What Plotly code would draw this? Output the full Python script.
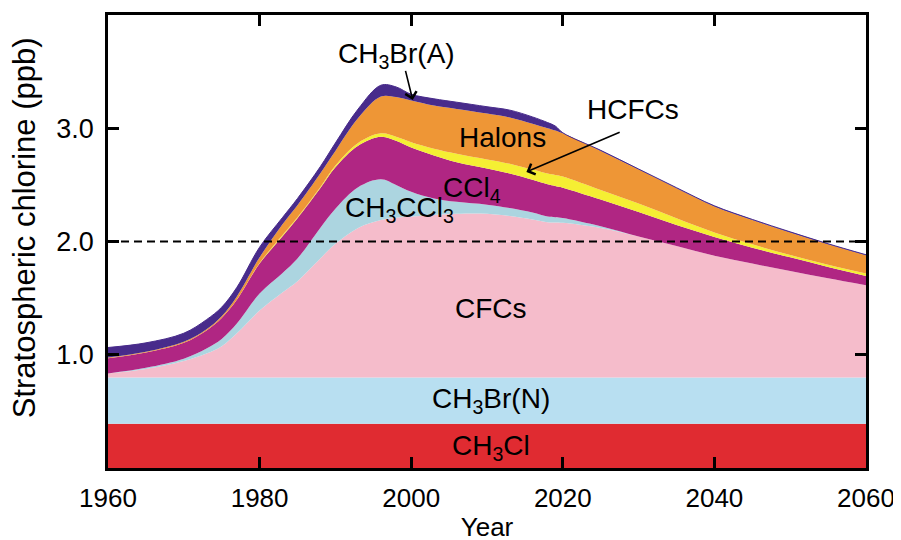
import plotly.graph_objects as go

# ---- data (ppb of equivalent stratospheric chlorine, stacked contributions) ----
years = [1960, 1965, 1970, 1973, 1975, 1977, 1980, 1983, 1985, 1988, 1990, 1993, 1996, 1998,
         2000, 2003, 2006, 2010, 2013, 2016, 2018, 2019, 2020, 2025, 2030, 2035, 2040, 2045,
         2050, 2055, 2060]

ch3cl = [0.39] * len(years)
ch3br_n = [0.41] * len(years)
cfcs = [0.035, 0.075, 0.145, 0.21, 0.275, 0.39, 0.59, 0.75, 0.85, 1.05, 1.18, 1.32, 1.39, 1.41,
        1.42, 1.435, 1.445, 1.445, 1.425, 1.395, 1.37, 1.368, 1.365, 1.32, 1.245, 1.16, 1.075, 1.005,
        0.94, 0.875, 0.814]
ch3ccl3 = [0.0, 0.01, 0.02, 0.045, 0.065, 0.085, 0.15, 0.17, 0.20, 0.27, 0.31, 0.36, 0.36, 0.29,
           0.22, 0.145, 0.105, 0.08, 0.07, 0.06, 0.05, 0.047, 0.043, 0.015, 0.0, 0.0, 0.0, 0.0,
           0.0, 0.0, 0.0]
ccl4 = [0.135, 0.135, 0.14, 0.16, 0.185, 0.21, 0.265, 0.325, 0.355, 0.35, 0.365, 0.365, 0.375, 0.39,
        0.39, 0.38, 0.35, 0.32, 0.305, 0.29, 0.285, 0.275, 0.267, 0.235, 0.215, 0.185, 0.165, 0.14,
        0.12, 0.10, 0.082]
hcfcs = [0.0, 0.0, 0.0, 0.0, 0.0, 0.0, 0.005, 0.01, 0.01, 0.01, 0.015, 0.025, 0.03, 0.035,
         0.047, 0.06, 0.075, 0.08, 0.087, 0.09, 0.095, 0.098, 0.10, 0.085, 0.075, 0.06, 0.04, 0.03,
         0.02, 0.02, 0.021]
halons = [0.006, 0.007, 0.01, 0.01, 0.015, 0.03, 0.05, 0.095, 0.105, 0.12, 0.13, 0.22, 0.325, 0.35,
          0.368, 0.38, 0.395, 0.405, 0.408, 0.405, 0.40, 0.392, 0.38, 0.345, 0.30, 0.265, 0.23, 0.215,
          0.20, 0.18, 0.161]
ch3br_a = [0.088, 0.078, 0.075, 0.085, 0.08, 0.08, 0.09, 0.06, 0.06, 0.06, 0.07, 0.08, 0.10, 0.09,
           0.055, 0.06, 0.06, 0.06, 0.065, 0.06, 0.05, 0.04, 0.005, 0.005, 0.005, 0.005, 0.005, 0.005,
           0.005, 0.005, 0.005]

series = [
    ("CH3Cl", ch3cl, "#e02b31"),
    ("CH3Br(N)", ch3br_n, "#b8dff1"),
    ("CFCs", cfcs, "#f5bccb"),
    ("CH3CCl3", ch3ccl3, "#acd5e0"),
    ("CCl4", ccl4, "#b02683"),
    ("HCFCs", hcfcs, "#f5ef33"),
    ("Halons", halons, "#ee9636"),
    ("CH3Br(A)", ch3br_a, "#482b8b"),
]

x_ticks = [1960, 1980, 2000, 2020, 2040, 2060]
y_ticks = [1.0, 2.0, 3.0]
y_tick_text = ["1.0", "2.0", "3.0"]

FONT = "Liberation Sans, Arial, Helvetica, sans-serif"

fig = go.Figure()
for name, vals, color in series:
    last = name == "CH3Br(A)"
    fig.add_trace(go.Scatter(
        x=years, y=vals, name=name, stackgroup="one", mode="lines",
        line=dict(width=1 if last else 0, color=color, shape="spline", smoothing=1.0),
        fillcolor=color, hoverinfo="x+y+name", showlegend=False,
    ))

# 2.0 ppb reference line
fig.add_shape(type="line", xref="x", yref="y", x0=1960, x1=2060, y0=2.0, y1=2.0,
              line=dict(color="black", width=2, dash="8px,5px"), layer="above")

labels = [
    ("CH<sub>3</sub>Br(A)", 1998.0, 3.64),
    ("Halons", 2012.1, 2.92),
    ("HCFCs", 2029.2, 3.17),
    ("CCl<sub>4</sub>", 2008.0, 2.46),
    ("CH<sub>3</sub>CCl<sub>3</sub>", 1998.5, 2.285),
    ("CFCs", 2010.5, 1.405),
    ("CH<sub>3</sub>Br(N)", 2010.5, 0.60),
    ("CH<sub>3</sub>Cl", 2010.5, 0.18),
]
for txt, lx, ly in labels:
    fig.add_annotation(x=lx, y=ly, text=txt, showarrow=False, xanchor="center", yanchor="middle",
                       font=dict(family=FONT, size=28, color="black"))

arrows = [
    (2000.2, 3.25, 1999.2, 3.52),
    (2015.2, 2.614, 2027.7, 2.97),
]
for tx, ty, ax, ay in arrows:
    fig.add_annotation(x=tx, y=ty, ax=ax, ay=ay, xref="x", yref="y", axref="x", ayref="y",
                       text="", showarrow=True, arrowhead=4, arrowsize=1.4, arrowwidth=1.6,
                       arrowcolor="black", standoff=0, startstandoff=0)

# y-axis title
fig.add_annotation(xref="paper", yref="paper", x=-0.109, y=0.53, text="Stratospheric chlorine (ppb)",
                   showarrow=False, textangle=-90, xanchor="center", yanchor="middle",
                   font=dict(family=FONT, size=31, color="black"))

fig.update_layout(
    width=901, height=540,
    margin=dict(l=100, r=43, t=4, b=80),
    paper_bgcolor="white", plot_bgcolor="white",
    font=dict(family=FONT, size=26, color="black"),
    xaxis=dict(range=[1960, 2060], tickvals=x_ticks, ticks="inside", ticklen=11, tickwidth=2.5,
               tickcolor="black", showline=True, linewidth=2.5, linecolor="black", mirror="ticks",
               showgrid=False, zeroline=False, tickfont=dict(size=26), ticklabelstandoff=5,
               title=dict(text="Year", font=dict(size=26), standoff=6)),
    yaxis=dict(range=[0, 4.0], tickvals=y_ticks, ticktext=y_tick_text, ticks="inside", ticklen=11,
               tickwidth=2.5, tickcolor="black", showline=True, linewidth=2.5, linecolor="black",
               mirror="ticks", showgrid=False, zeroline=False, tickfont=dict(size=27),
               ticklabelstandoff=6),
)

fig.write_html("out.html")
